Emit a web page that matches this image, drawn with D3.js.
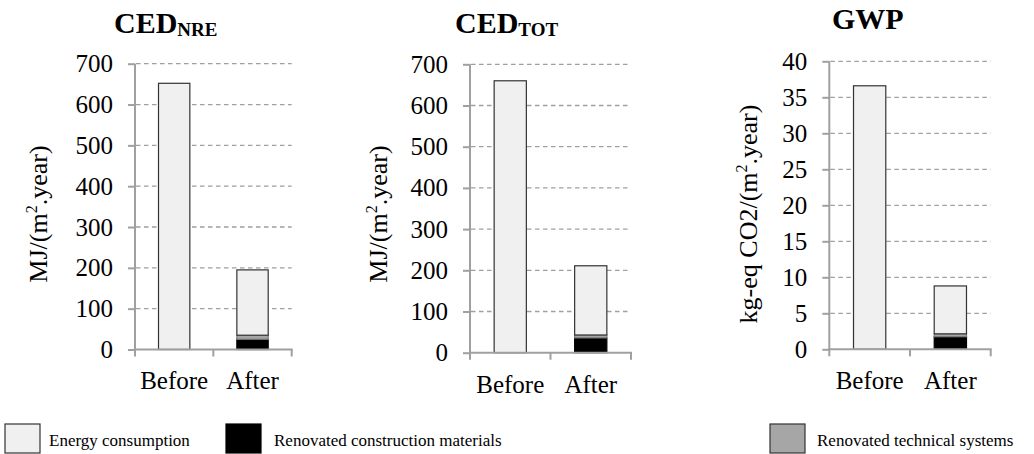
<!DOCTYPE html>
<html><head><meta charset="utf-8">
<script src="https://cdn.jsdelivr.net/npm/d3@7"></script>
<style>
body{margin:0;background:#fff}
text{font-family:"Liberation Serif","Times New Roman",serif;fill:#000}
</style>
</head><body>
<svg id="c" width="1034" height="454"></svg>
<script>
// ---- data ----
const categories = ["Before", "After"];
const seriesNames = ["Energy consumption", "Renovated construction materials", "Renovated technical systems"];
const cedNreEnergy = [652, 160];
const cedNreMaterials = [0, 25];
const cedNreTechnical = [0, 10];
const cedTotEnergy = [660, 168];
const cedTotMaterials = [0, 36];
const cedTotTechnical = [0, 7];
const gwpEnergy = [36.6, 6.65];
const gwpMaterials = [0, 1.75];
const gwpTechnical = [0, 0.4];
const cedTicks = [0, 100, 200, 300, 400, 500, 600, 700];
const gwpTicks = [0, 5, 10, 15, 20, 25, 30, 35, 40];

const colors = {energy: "#f0f0f0", materials: "#000000", technical: "#a6a6a6"};
const strokes = {energy: "#333333", materials: "#000000", technical: "#7a7a7a"};

const panels = [
  {energy: cedNreEnergy, materials: cedNreMaterials, technical: cedNreTechnical, ticks: cedTicks,
   left: 135, right: 291.7, top: 63.7, bottom: 349.5,
   title: "CED", sub: "NRE", titleX: 114, titleY: 33,
   yTitle: ["MJ/(m", "2", ".year)"], yTitleX: 47, yTitleY: 214, xLabelY: 389},
  {energy: cedTotEnergy, materials: cedTotMaterials, technical: cedTotTechnical, ticks: cedTicks,
   left: 470, right: 631, top: 64.3, bottom: 352.7,
   title: "CED", sub: "TOT", titleX: 455, titleY: 33,
   yTitle: ["MJ/(m", "2", ".year)"], yTitleX: 387, yTitleY: 214, xLabelY: 392.7},
  {energy: gwpEnergy, materials: gwpMaterials, technical: gwpTechnical, ticks: gwpTicks,
   left: 829.3, right: 990.7, top: 61.3, bottom: 349.3,
   title: "GWP", sub: "", titleX: 832, titleY: 28.5,
   yTitle: ["kg-eq CO2/(m", "2", ".year)"], yTitleX: 757, yTitleY: 214, xLabelY: 389}
];

const svg = d3.select("#c");
const axisColor = "#a0a0a0";

panels.forEach(p => {
  const g = svg.append("g");
  const x = d3.scaleBand().domain(categories).range([p.left, p.right]).paddingInner(0.6).paddingOuter(0.3);
  const y = d3.scaleLinear().domain([p.ticks[0], p.ticks[p.ticks.length - 1]]).range([p.bottom, p.top]);

  // gridlines
  g.append("g").selectAll("line").data(p.ticks.filter(t => t > 0)).join("line")
    .attr("x1", p.left + 1).attr("x2", p.right)
    .attr("y1", d => y(d)).attr("y2", d => y(d))
    .attr("stroke", axisColor).attr("stroke-width", 1.3).attr("stroke-dasharray", "4.5,3.5");

  // y axis
  const ya = g.append("g").attr("transform", `translate(${p.left},0)`)
    .call(d3.axisLeft(y).tickValues(p.ticks).tickSize(7).tickPadding(15).tickFormat(d3.format("d")));
  ya.select(".domain").attr("stroke", axisColor).attr("stroke-width", 2).attr("d", `M0,${p.top}V${p.bottom}`);
  ya.selectAll(".tick line").attr("stroke", axisColor).attr("stroke-width", 2);
  ya.selectAll(".tick text").attr("font-size", 25).attr("fill", "#000");

  // stacked bars
  const table = categories.map((c, i) => ({cat: c, materials: p.materials[i], technical: p.technical[i], energy: p.energy[i]}));
  const stack = d3.stack().keys(["materials", "technical", "energy"])(table);
  stack.forEach(layer => {
    g.append("g").selectAll("rect").data(layer.filter(d => d[1] - d[0] > 0)).join("rect")
      .attr("x", d => x(d.data.cat)).attr("width", x.bandwidth())
      .attr("y", d => y(d[1])).attr("height", d => y(d[0]) - y(d[1]))
      .attr("fill", colors[layer.key]).attr("stroke", strokes[layer.key]).attr("stroke-width", 1.2);
  });

  // x axis
  const xa = g.append("g");
  xa.append("line").attr("x1", p.left - 1).attr("x2", p.right + 1).attr("y1", p.bottom).attr("y2", p.bottom)
    .attr("stroke", axisColor).attr("stroke-width", 2);
  const bounds = [p.left, p.left + x.step(), p.left + 2 * x.step()];
  xa.selectAll("line.b").data(bounds).join("line").attr("class", "b")
    .attr("x1", d => d).attr("x2", d => d).attr("y1", p.bottom).attr("y2", p.bottom + 7)
    .attr("stroke", axisColor).attr("stroke-width", 2);
  xa.selectAll("text").data(categories).join("text")
    .attr("x", d => x(d) + x.bandwidth() / 2).attr("y", p.xLabelY)
    .attr("text-anchor", "middle").attr("font-size", 25).text(d => d);

  // title
  const t = g.append("text").attr("x", p.titleX).attr("y", p.titleY).attr("font-weight", "bold").attr("font-size", 30);
  t.append("tspan").text(p.title);
  if (p.sub) t.append("tspan").attr("font-size", 19).attr("dy", 3).text(p.sub);

  // y title
  const yt = g.append("text").attr("transform", `translate(${p.yTitleX},${p.yTitleY}) rotate(-90)`)
    .attr("text-anchor", "middle").attr("font-size", 26);
  yt.append("tspan").text(p.yTitle[0]);
  yt.append("tspan").attr("font-size", 16).attr("dy", -10).text(p.yTitle[1]);
  yt.append("tspan").attr("dy", 10).text(p.yTitle[2]);
});

// legend
const legendX = [5, 226, 770];
const legendTextX = [49, 274, 817];
const legendKeys = ["energy", "materials", "technical"];
const lg = svg.append("g");
legendKeys.forEach((k, i) => {
  lg.append("rect").attr("x", legendX[i]).attr("y", 424).attr("width", 35).attr("height", 29)
    .attr("fill", colors[k]).attr("stroke", k === "materials" ? "#000" : "#333").attr("stroke-width", 1.2);
  lg.append("text").attr("x", legendTextX[i]).attr("y", 446).attr("font-size", 17).text(seriesNames[i]);
});
</script>
</body></html>
